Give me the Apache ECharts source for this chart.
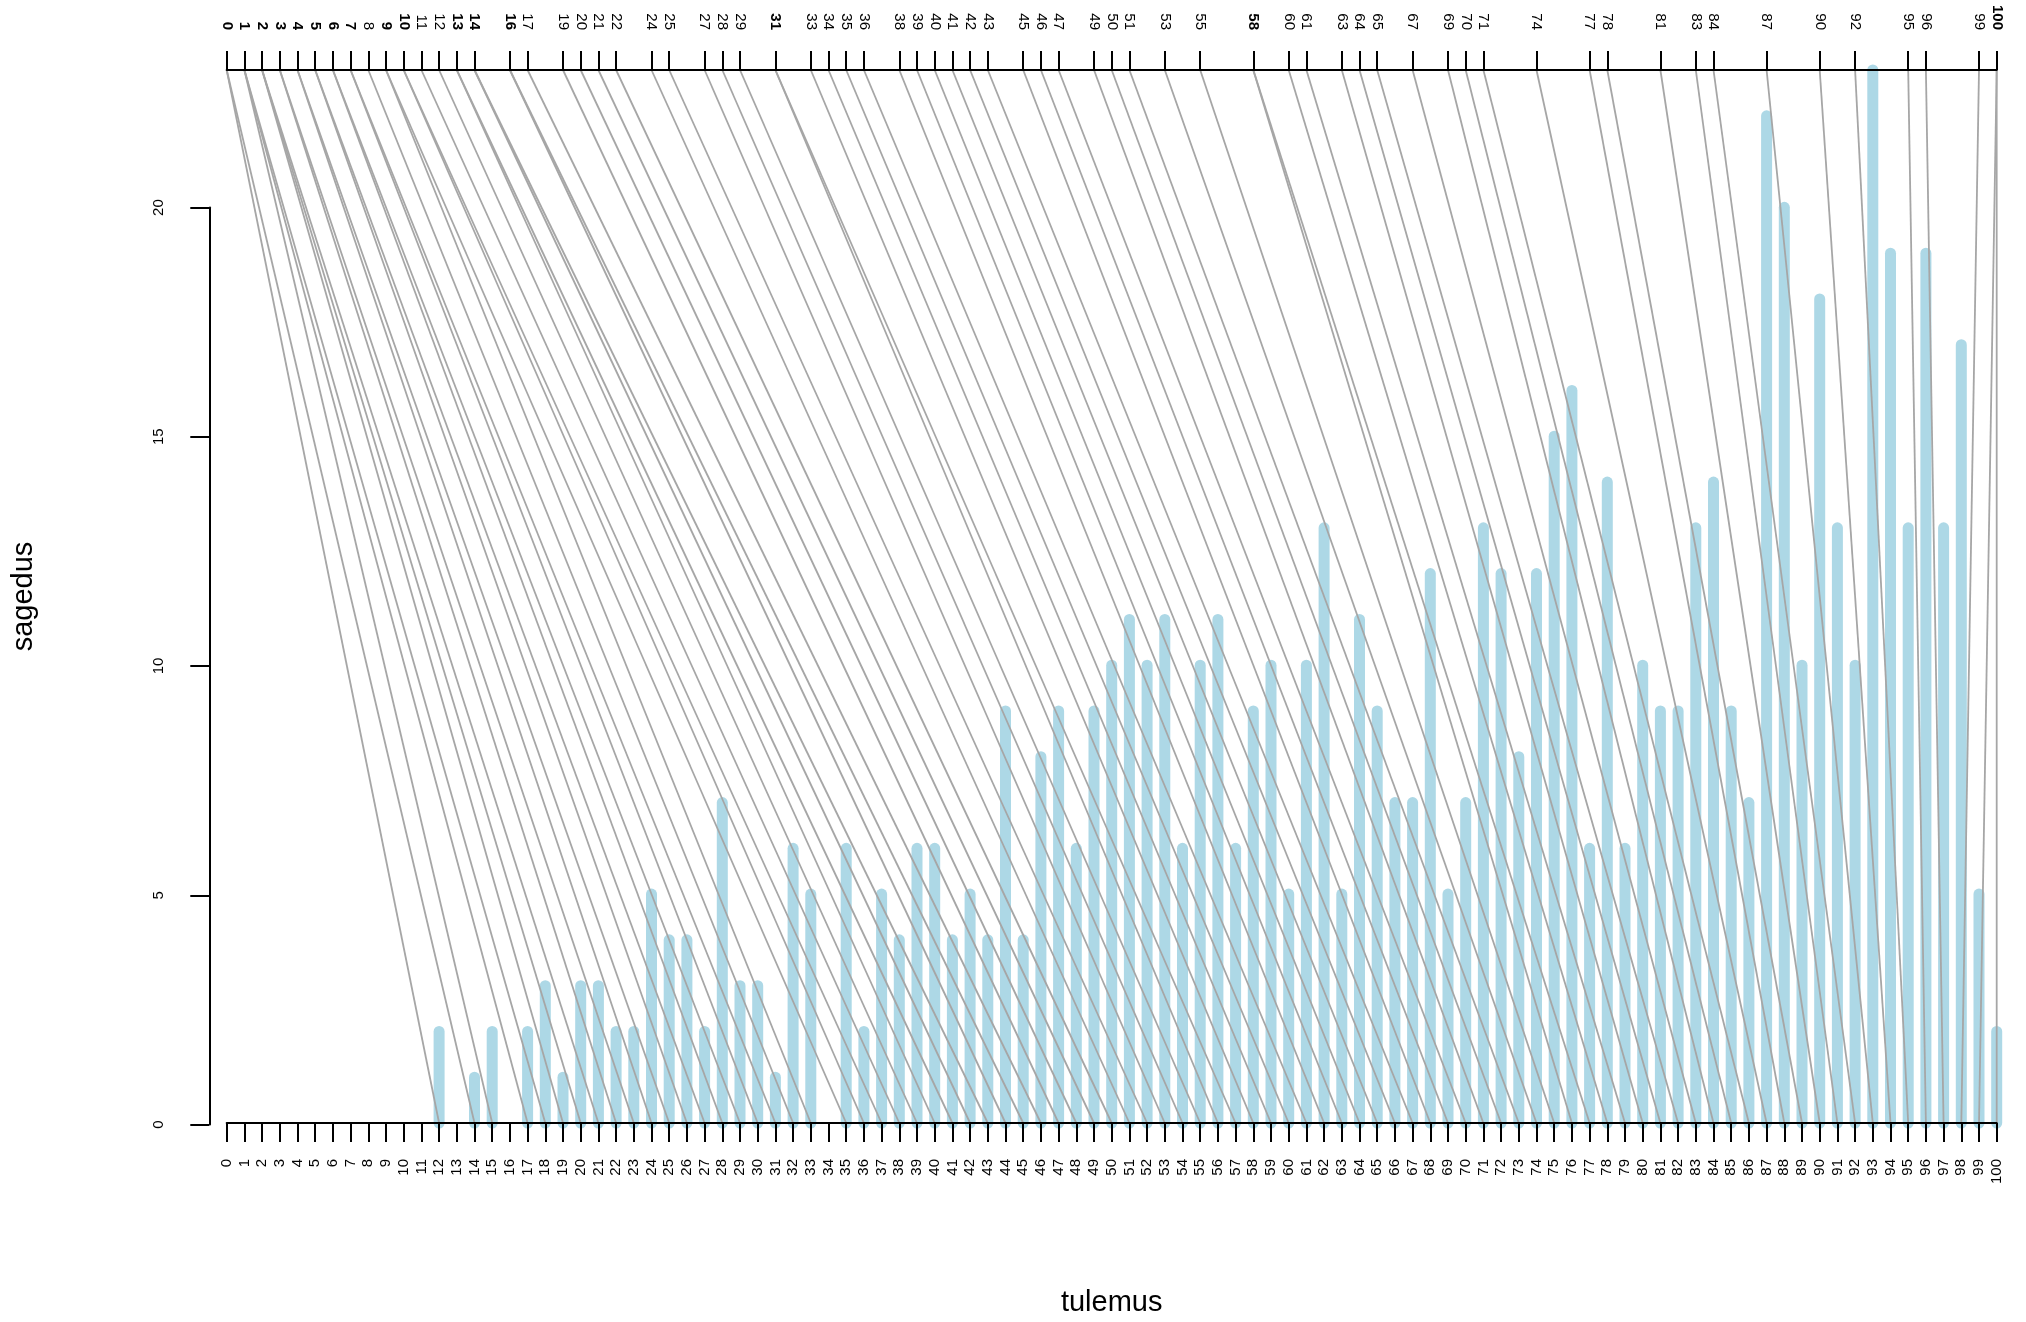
<!DOCTYPE html>
<html><head><meta charset="utf-8">
<script src="https://cdn.jsdelivr.net/npm/echarts@6/dist/echarts.min.js"></script>
<style>html,body{margin:0;padding:0;background:#fff}#c{width:2026px;height:1322px}</style>
</head><body><div id="c"></div>
<script>
// tulemus (score) categories
const scores = [0,1,2,3,4,5,6,7,8,9,10,11,12,13,14,15,16,17,18,19,20,21,22,23,24,25,26,27,28,29,30,31,32,33,34,35,36,37,38,39,40,41,42,43,44,45,46,47,48,49,50,51,52,53,54,55,56,57,58,59,60,61,62,63,64,65,66,67,68,69,70,71,72,73,74,75,76,77,78,79,80,81,82,83,84,85,86,87,88,89,90,91,92,93,94,95,96,97,98,99,100];
// sagedus (frequency) per score
const counts = [0,0,0,0,0,0,0,0,0,0,0,0,2,0,1,2,0,2,3,1,3,3,2,2,5,4,4,2,7,3,3,1,6,5,0,6,2,5,4,6,6,4,5,4,9,4,8,9,6,9,10,11,10,11,6,10,11,6,9,10,5,10,13,5,11,9,7,7,12,5,7,13,12,8,12,15,16,6,14,6,10,9,9,13,14,9,7,22,20,10,18,13,10,23,19,13,19,13,17,5,2];
// connecting lines: score (bottom) -> percentile (top axis)
const linkScores = [12,14,15,17,18,19,20,21,22,23,24,25,26,27,28,29,30,31,32,33,35,36,37,38,39,40,41,42,43,44,45,46,47,48,49,50,51,52,53,54,55,56,57,58,59,60,61,62,63,64,65,66,67,68,69,70,71,72,73,74,75,76,77,78,79,80,81,82,83,84,85,86,87,88,89,90,91,92,93,94,95,96,97,98,99,100];
const linkPercentiles = [0,0,1,1,1,2,2,2,3,3,4,4,5,5,6,6,7,7,8,9,9,10,10,11,12,13,13,14,14,16,16,17,19,20,21,22,24,25,27,28,29,31,31,33,34,35,36,38,39,40,41,42,43,45,46,47,49,50,51,53,55,58,58,60,61,63,64,65,67,69,70,71,74,77,78,81,83,84,87,90,92,95,96,99,100,100];
// top axis tick labels
const topTicks = [0,1,2,3,4,5,6,7,8,9,10,11,12,13,14,16,17,19,20,21,22,24,25,27,28,29,31,33,34,35,36,38,39,40,41,42,43,45,46,47,49,50,51,53,55,58,60,61,63,64,65,67,69,70,71,74,77,78,81,83,84,87,90,92,95,96,99,100];
// left axis tick labels
const yTicks = [0,5,10,15,20];

const maxCount = Math.max(...counts);
const barData = scores.map((s, i) => [s, counts[i]]).filter(d => d[1] > 0);
const linkData = linkScores.map((s, i) => [linkPercentiles[i], s]);
const dupCount = {};
linkPercentiles.forEach(p => { dupCount[p] = (dupCount[p] || 0) + 1; });

const FONT = '"Liberation Sans", Arial, sans-serif';
const FS = 15;
const G = { left: 226.7, right: 29.3, top: 70, bottom: 197.5 };
const unit = (1322 - G.top - G.bottom) / maxCount;
const yTop = yTicks[yTicks.length - 1];
const AX = { color: '#000', width: 2 };

const chart = echarts.init(document.getElementById('c'), null, { renderer: 'canvas' });
chart.setOption({
  animation: false,
  backgroundColor: '#fff',
  textStyle: { fontFamily: FONT },
  grid: [
    { left: G.left, right: G.right, top: G.top, bottom: G.bottom },
    { left: G.left, right: G.right, top: G.top + (maxCount - yTop) * unit, bottom: G.bottom }
  ],
  xAxis: [
    {
      gridIndex: 0, type: 'value', position: 'bottom', min: 0, max: 100, interval: 1,
      axisLine: { show: true, onZero: false, lineStyle: AX },
      axisTick: { show: true, length: 19, lineStyle: AX },
      axisLabel: { rotate: 90, fontSize: FS, color: '#000', margin: 36, fontFamily: FONT, showMinLabel: true, showMaxLabel: true },
      splitLine: { show: false },
      name: 'tulemus', nameLocation: 'middle', nameGap: 165,
      nameTextStyle: { fontSize: 29, color: '#000', fontFamily: FONT },
      z: 10
    },
    {
      gridIndex: 0, type: 'value', position: 'top', min: 0, max: 100,
      axisLine: { show: true, onZero: false, lineStyle: AX },
      axisTick: { show: true, length: 19, lineStyle: AX, customValues: topTicks },
      axisLabel: {
        customValues: topTicks, rotate: 90, fontSize: FS, color: '#000', margin: 40, fontFamily: FONT,
        formatter: v => (dupCount[v] > 1 ? '{b|' + v + '}' : '{n|' + v + '}'),
        rich: {
          b: { fontWeight: 'bold', fontSize: FS, fontFamily: FONT, color: '#000' },
          n: { fontSize: FS, fontFamily: FONT, color: '#000' }
        }
      },
      splitLine: { show: false },
      z: 10
    },
    { gridIndex: 1, type: 'value', min: 0, max: 100, show: false }
  ],
  yAxis: [
    {
      gridIndex: 0, type: 'value', min: 0, max: maxCount,
      axisLine: { show: false }, axisTick: { show: false }, axisLabel: { show: false }, splitLine: { show: false },
      name: 'sagedus', nameLocation: 'middle', nameGap: 188, nameRotate: 90,
      nameTextStyle: { fontSize: 29, color: '#000', fontFamily: FONT }
    },
    {
      gridIndex: 1, type: 'value', min: 0, max: yTop, interval: 5, offset: 17.4,
      axisLine: { show: true, onZero: false, lineStyle: AX },
      axisTick: { show: true, length: 19, lineStyle: AX },
      axisLabel: { rotate: 90, fontSize: FS, color: '#000', margin: 43, fontFamily: FONT, customValues: yTicks },
      splitLine: { show: false },
      z: 10
    }
  ],
  series: [
    {
      type: 'custom', xAxisIndex: 0, yAxisIndex: 0, data: barData, z: 2, silent: true,
      encode: { x: 0, y: 1 },
      renderItem: (params, api) => {
        const p0 = api.coord([api.value(0), 0]);
        const p1 = api.coord([api.value(0), api.value(1)]);
        return { type: 'line', shape: { x1: p0[0], y1: p0[1], x2: p1[0], y2: p1[1] },
                 style: { stroke: '#ADD8E6', lineWidth: 11, lineCap: 'round' } };
      }
    },
    {
      type: 'custom', xAxisIndex: 0, yAxisIndex: 0, data: linkData, z: 3, silent: true,
      encode: { x: [0, 1] },
      renderItem: (params, api) => {
        const a = api.coord([api.value(0), maxCount]);
        const b = api.coord([api.value(1), 0]);
        return { type: 'line', shape: { x1: a[0], y1: a[1], x2: b[0], y2: b[1] },
                 style: { stroke: '#A6A6A6', lineWidth: 1.8 } };
      }
    }
  ]
});
</script>
</body></html>
